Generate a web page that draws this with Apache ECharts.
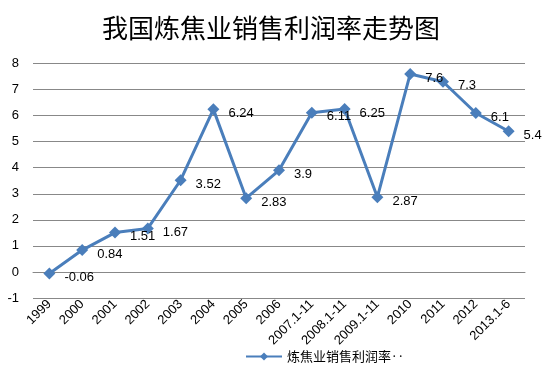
<!DOCTYPE html>
<html><head><meta charset="utf-8">
<script src="https://cdn.jsdelivr.net/npm/echarts@6/dist/echarts.min.js"></script>
<style>html,body{margin:0;padding:0;background:#fff}#c{width:542px;height:374px}</style>
</head><body><div id="c"></div>
<script>
const categories = ['1999','2000','2001','2002','2003','2004','2005','2006','2007.1-11','2008.1-11','2009.1-11','2010','2011','2012','2013.1-6'];
const values = [-0.06,0.84,1.51,1.67,3.52,6.24,2.83,3.9,6.11,6.25,2.87,7.6,7.3,6.1,5.4];
const seriesName = '炼焦业销售利润率‥';
const titleText = '我国炼焦业销售利润率走势图';
const chart = echarts.init(document.getElementById('c'));
chart.setOption({
  animation:false,
  title:{text:titleText,left:'center',top:10,textStyle:{fontFamily:'Noto Sans CJK SC',fontSize:26,fontWeight:'normal',color:'#000'}},
  legend:{bottom:6,left:240,itemWidth:36,itemHeight:10,itemGap:4,textStyle:{fontFamily:'Noto Sans CJK SC',fontSize:13,color:'#000'},data:[seriesName]},
  grid:{left:33,right:17,top:63.5,height:234.5,containLabel:false},
  xAxis:{type:'category',data:categories,boundaryGap:true,axisLine:{show:true,lineStyle:{color:'#888'}},axisTick:{show:false},
    axisLabel:{rotate:45,fontSize:13,color:'#000',fontFamily:'Liberation Sans',margin:4,interval:0}},
  yAxis:{type:'value',min:-1,max:8,interval:1,axisLine:{show:false},axisTick:{show:false},
    axisLabel:{fontSize:13,color:'#000',fontFamily:'Liberation Sans',margin:14},
    splitLine:{lineStyle:{color:'#888',width:1}}},
  series:[{name:seriesName,type:'line',data:values,color:'#4a7ebb',lineStyle:{width:3,color:'#4a7ebb'},
    symbol:'diamond',symbolSize:12,itemStyle:{color:'#4a7ebb'},
    label:{show:true,position:'right',distance:9,fontSize:13,color:'#000',fontFamily:'Liberation Sans',offset:[0,4]}}]
});
</script></body></html>
